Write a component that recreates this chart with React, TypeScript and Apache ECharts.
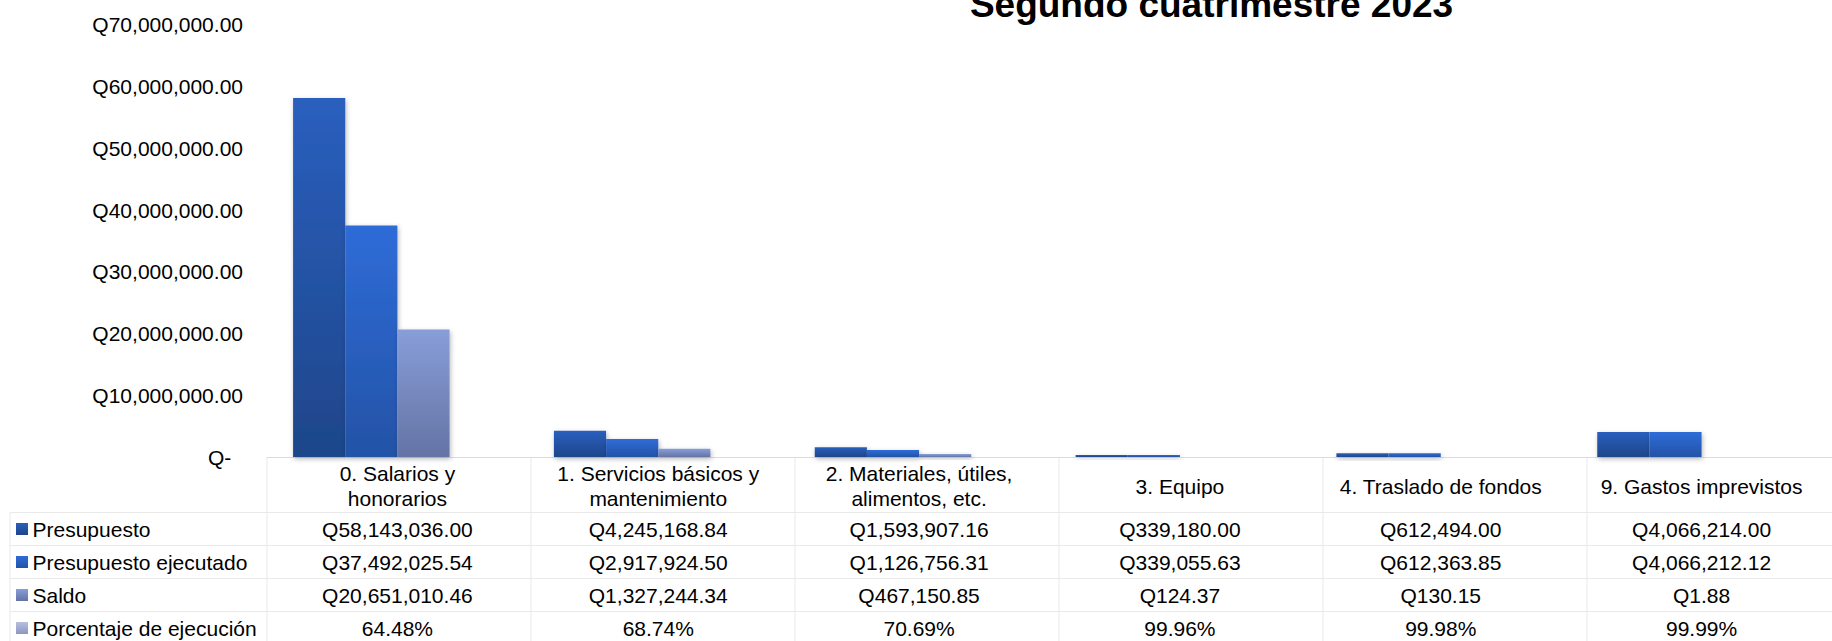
import React, { useEffect, useRef } from "react";
import * as echarts from "echarts";

const title = "Segundo cuatrimestre 2023";
const categories = [
  "0. Salarios y\nhonorarios",
  "1. Servicios básicos y\nmantenimiento",
  "2. Materiales, útiles,\nalimentos, etc.",
  "3. Equipo",
  "4. Traslado de fondos",
  "9. Gastos imprevistos",
];
const seriesNames = ["Presupuesto", "Presupuesto ejecutado", "Saldo", "Porcentaje de ejecución"];
const presupuesto = [58143036.0, 4245168.84, 1593907.16, 339180.0, 612494.0, 4066214.0];
const ejecutado = [37492025.54, 2917924.5, 1126756.31, 339055.63, 612363.85, 4066212.12];
const saldo = [20651010.46, 1327244.34, 467150.85, 124.37, 130.15, 1.88];
const porcentaje = [0.6448, 0.6874, 0.7069, 0.9996, 0.9998, 0.9999];
const yMin = 0;
const yMax = 70000000;
const yInterval = 10000000;

const FONT = '"Liberation Sans", Arial, Helvetica, sans-serif';
const W = 1832;
const H = 641;
const GRID_LEFT = 267;
const GRID_TOP = 24.8;
const GRID_WIDTH = 1584;
const GRID_BOTTOM_Y = 457;
const ROW_TOP = 512.5;
const ROW_H = 33;

const gradPairs: [string, string][] = [
  ["#2a5fbe", "#1e468a"],
  ["#2f6cd8", "#2353a6"],
  ["#889ed9", "#6473a4"],
  ["#b6bfe2", "#8c97c0"],
];

const money = (v: number) =>
  "Q" + v.toLocaleString("en-US", { minimumFractionDigits: 2, maximumFractionDigits: 2 });
const pct = (v: number) => (v * 100).toFixed(2) + "%";

const grad = (i: number) =>
  new echarts.graphic.LinearGradient(0, 0, 0, 1, [
    { offset: 0, color: gradPairs[i][0] },
    { offset: 1, color: gradPairs[i][1] },
  ]);

export default function App() {
  const ref = useRef<HTMLDivElement>(null);
  useEffect(() => {
    if (!ref.current) return;
    const chart = echarts.init(ref.current, null, { renderer: "svg" });
    const seriesData = [presupuesto, ejecutado, saldo, porcentaje];
    const rowFormat = [money, money, money, pct];
    const colW = GRID_WIDTH / categories.length;
    const tableRight = GRID_LEFT + GRID_WIDTH;
    const lineStyle = { stroke: "#e9e9e9", lineWidth: 1 };
    const graphics: any[] = [];
    graphics.push({
      type: "text",
      x: 1211.5,
      y: 4,
      style: {
        text: title,
        font: `bold 37px ${FONT}`,
        fill: "#000",
        textAlign: "center",
        textVerticalAlign: "middle",
        align: "center",
        verticalAlign: "middle",
      },
    });
    for (let r = 0; r < 4; r++) {
      const y = ROW_TOP + r * ROW_H;
      graphics.push({ type: "line", shape: { x1: 10, y1: y, x2: tableRight, y2: y }, style: lineStyle, silent: true });
      const cy = y + ROW_H / 2;
      graphics.push({
        type: "rect",
        shape: { x: 16, y: cy - 6, width: 12, height: 12 },
        style: { fill: grad(r) },
      });
      graphics.push({
        type: "text",
        x: 32.5,
        y: cy,
        style: {
          text: seriesNames[r],
          font: `21px ${FONT}`,
          fill: "#000",
          textAlign: "left",
          textVerticalAlign: "middle",
          align: "left",
          verticalAlign: "middle",
        },
      });
    }
    graphics.push({ type: "line", shape: { x1: 10, y1: ROW_TOP, x2: 10, y2: H }, style: lineStyle, silent: true });
    for (let k = 0; k <= categories.length; k++) {
      const x = GRID_LEFT + k * colW;
      graphics.push({ type: "line", shape: { x1: x, y1: GRID_BOTTOM_Y + 1, x2: x, y2: H }, style: lineStyle, silent: true });
    }

    const labelBase = { fontSize: 21, fontFamily: FONT, color: "#000" };
    const extraAxes = seriesData.map((row, i) => ({
      type: "category",
      data: categories,
      gridIndex: 0,
      position: "bottom",
      offset: ROW_TOP + i * ROW_H + ROW_H / 2 - GRID_BOTTOM_Y,
      axisLine: { show: false },
      axisTick: { show: false },
      axisLabel: {
        ...labelBase,
        interval: 0,
        margin: 0,
        verticalAlign: "middle",
        formatter: (_v: string, idx: number) => rowFormat[i](row[idx]),
      },
    }));

    chart.setOption({
      animation: false,
      grid: { left: GRID_LEFT, top: GRID_TOP, width: GRID_WIDTH, height: GRID_BOTTOM_Y - GRID_TOP },
      xAxis: [
        {
          type: "category",
          data: categories,
          gridIndex: 0,
          position: "bottom",
          axisLine: { show: true, lineStyle: { color: "#dcdcdc", width: 1 } },
          axisTick: { show: false },
          axisLabel: {
            ...labelBase,
            interval: 0,
            margin: 29,
            lineHeight: 25,
            verticalAlign: "middle",
            align: "center",
          },
        },
        ...extraAxes,
      ],
      yAxis: {
        type: "value",
        min: yMin,
        max: yMax,
        interval: yInterval,
        axisLine: { show: false },
        axisTick: { show: false },
        splitLine: { show: false },
        axisLabel: {
          ...labelBase,
          margin: 24,
          formatter: (v: number) => (v === 0 ? "Q-\u00a0\u00a0" : money(v)),
        },
      },
      series: seriesData.map((d, i) => ({
        type: "bar",
        name: seriesNames[i],
        data: d,
        xAxisIndex: 0,
        yAxisIndex: 0,
        barGap: "0%",
        barCategoryGap: "20%",
        itemStyle: {
          color: grad(i),
          shadowColor: "rgba(0,0,0,0.28)",
          shadowBlur: 5,
          shadowOffsetX: 1,
          shadowOffsetY: 2,
        },
      })),
      graphic: graphics,
    });
    return () => chart.dispose();
  }, []);
  return (
    <div
      ref={ref}
      style={{ position: "absolute", left: 0, top: 0, width: W, height: H, overflow: "hidden" }}
    />
  );
}
